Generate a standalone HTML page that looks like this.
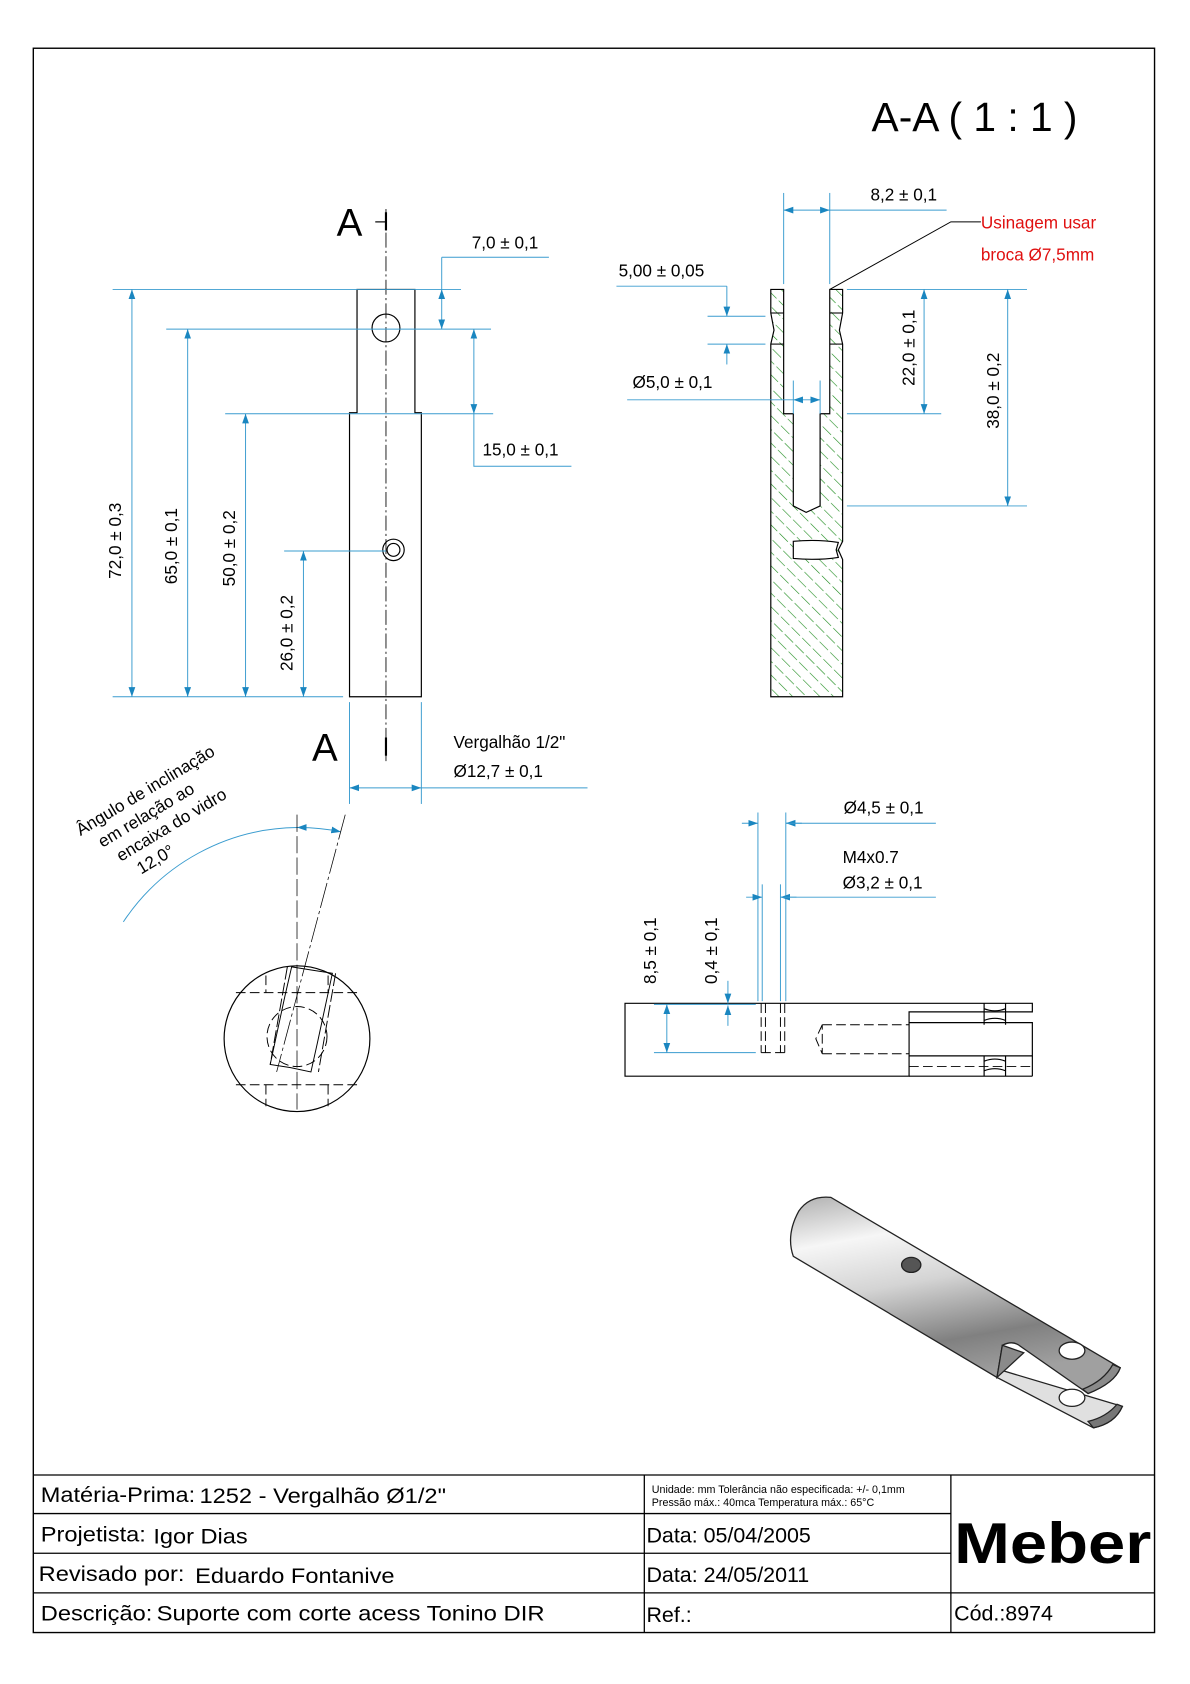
<!DOCTYPE html>
<html><head><meta charset="utf-8"><style>html,body{margin:0;padding:0;background:#fff}svg{display:block}text{font-family:"Liberation Sans",sans-serif}</style></head><body>
<svg width="1190" height="1684" viewBox="0 0 1110 1571" xmlns="http://www.w3.org/2000/svg">
<defs>
<pattern id="h" patternUnits="userSpaceOnUse" width="9" height="14" patternTransform="rotate(-45)">
<line x1="0" y1="0" x2="0" y2="14" stroke="#1a8a1a" stroke-width="1.1" stroke-dasharray="9 3"/>
</pattern>
<marker id="a" viewBox="0 0 10 10" refX="10" refY="5" markerWidth="9" markerHeight="9" orient="auto-start-reverse" markerUnits="userSpaceOnUse"><path d="M0,1.5 L10,5 L0,8.5z" fill="#1a86c0"/></marker>
<linearGradient id="g" x1="0" y1="0" x2="0.3" y2="1"><stop offset="0" stop-color="#b0b0b0"/><stop offset="0.25" stop-color="#f6f6f6"/><stop offset="0.5" stop-color="#d4d4d4"/><stop offset="0.8" stop-color="#808080"/><stop offset="1" stop-color="#a0a0a0"/></linearGradient>
</defs>
<rect x="31" y="45" width="1046" height="1478" fill="none" stroke="#000" stroke-width="1.3"/>
<text x="813" y="122" font-size="38">A-A  ( 1 : 1 )</text>

<!-- left view -->
<g stroke="#000" stroke-width="1.1" fill="none">
<path d="M333,270 H387 V385 H393 V650 H326 V385 H333 Z"/>
<circle cx="360" cy="306" r="13"/>
<circle cx="367" cy="513" r="10"/><circle cx="367" cy="513" r="6"/>
<line x1="360" y1="195" x2="360" y2="710" stroke-dasharray="14 3 2 3" stroke-width="0.8"/>
<line x1="360" y1="198" x2="360" y2="215" stroke-width="2"/><line x1="350" y1="207" x2="360" y2="207"/>
<line x1="360" y1="688" x2="360" y2="705" stroke-width="2"/>
</g>
<text x="314" y="220" font-size="36">A</text>
<text x="291" y="710" font-size="36">A</text>
<g stroke="#3a9ccf" stroke-width="0.9" fill="none">
<line x1="105" y1="270" x2="430" y2="270"/><line x1="105" y1="650" x2="320" y2="650"/>
<line x1="155" y1="307" x2="458" y2="307"/><line x1="210" y1="386" x2="460" y2="386"/>
<line x1="265" y1="514" x2="360" y2="514"/>
<line x1="123" y1="270" x2="123" y2="650" marker-start="url(#a)" marker-end="url(#a)"/>
<line x1="175" y1="307" x2="175" y2="650" marker-start="url(#a)" marker-end="url(#a)"/>
<line x1="229" y1="386" x2="229" y2="650" marker-start="url(#a)" marker-end="url(#a)"/>
<line x1="283" y1="514" x2="283" y2="650" marker-start="url(#a)" marker-end="url(#a)"/>
<line x1="412" y1="240" x2="412" y2="270"/><line x1="412" y1="240" x2="512" y2="240"/>
<line x1="412" y1="270" x2="412" y2="307" marker-start="url(#a)" marker-end="url(#a)"/>
<line x1="442" y1="307" x2="442" y2="386" marker-start="url(#a)" marker-end="url(#a)"/>
<polyline points="442,386 442,435 533,435"/>
<line x1="326" y1="655" x2="326" y2="750"/><line x1="393" y1="655" x2="393" y2="750"/>
<line x1="326" y1="735" x2="393" y2="735" marker-start="url(#a)" marker-end="url(#a)"/>
<line x1="393" y1="735" x2="548" y2="735"/>
</g>
<g font-size="16">
<text transform="translate(113,540) rotate(-90)">72,0 ± 0,3</text>
<text transform="translate(165,545) rotate(-90)">65,0 ± 0,1</text>
<text transform="translate(219,547) rotate(-90)">50,0 ± 0,2</text>
<text transform="translate(273,626) rotate(-90)">26,0 ± 0,2</text>
<text x="440" y="232">7,0 ± 0,1</text>
<text x="450" y="425">15,0 ± 0,1</text>
<text x="423" y="698">Vergalhão 1/2"</text>
<text x="423" y="725">Ø12,7 ± 0,1</text>
</g>

<!-- section view -->
<path d="M719,270 H731 V386 H740 V472 L752,478 L765,472 V386 H774 V270 H786 V292 L783,308 L786,321 V505 L782,513 L786,522 V650 H719 V321 L722,308 L719,292 Z" fill="url(#h)" stroke="#000" stroke-width="1.1"/>
<path d="M740,505 Q762,503 782,506 L780,513 L782,520 Q762,523 740,521 Z" fill="#fff" stroke="#000" stroke-width="1.1"/>
<g stroke="#000" stroke-width="1"><line x1="719" y1="292" x2="731" y2="292"/><line x1="719" y1="321" x2="731" y2="321"/><line x1="774" y1="292" x2="786" y2="292"/><line x1="774" y1="321" x2="786" y2="321"/></g>
<g stroke="#3a9ccf" stroke-width="0.9" fill="none">
<line x1="731" y1="180" x2="731" y2="265"/><line x1="774" y1="180" x2="774" y2="265"/>
<line x1="731" y1="196" x2="774" y2="196" marker-start="url(#a)" marker-end="url(#a)"/>
<line x1="774" y1="196" x2="883" y2="196"/>
<line x1="575" y1="267" x2="678" y2="267"/><line x1="660" y1="295" x2="714" y2="295"/><line x1="660" y1="321" x2="714" y2="321"/>
<line x1="678" y1="267" x2="678" y2="295" marker-end="url(#a)"/><line x1="678" y1="340" x2="678" y2="321" marker-end="url(#a)"/>
<line x1="740" y1="355" x2="740" y2="386"/><line x1="765" y1="355" x2="765" y2="386"/>
<line x1="585" y1="373" x2="740" y2="373"/>
<line x1="740" y1="373" x2="765" y2="373" marker-start="url(#a)" marker-end="url(#a)"/>
<line x1="790" y1="270" x2="958" y2="270"/><line x1="790" y1="386" x2="878" y2="386"/><line x1="790" y1="472" x2="958" y2="472"/>
<line x1="862" y1="270" x2="862" y2="386" marker-start="url(#a)" marker-end="url(#a)"/>
<line x1="940" y1="270" x2="940" y2="472" marker-start="url(#a)" marker-end="url(#a)"/>
</g>
<polyline points="774,270 887,207 915,207" fill="none" stroke="#000" stroke-width="0.9"/>
<g font-size="16">
<text x="812" y="187">8,2 ± 0,1</text>
<text x="577" y="258">5,00 ± 0,05</text>
<text x="590" y="362">Ø5,0 ± 0,1</text>
<text transform="translate(853,360) rotate(-90)">22,0 ± 0,1</text>
<text transform="translate(932,400) rotate(-90)">38,0 ± 0,2</text>
<text x="915" y="213" fill="#e01010">Usinagem usar</text>
<text x="915" y="243" fill="#e01010">broca Ø7,5mm</text>
</g>

<!-- angle / circle view -->
<g font-size="16" fill="#000" transform="translate(75,780) rotate(-31)">
<text x="0" y="0">Ângulo de inclinação</text>
<text x="12" y="20">em relação ao</text>
<text x="20" y="40">encaixa do vidro</text>
<text x="30" y="60">12,0°</text>
</g>
<g fill="none">
<path d="M115,860 A197,197 0 0 1 277,772" stroke="#3a9ccf" stroke-width="0.9"/>
<path d="M277,772 A197,197 0 0 1 318,776" stroke="#3a9ccf" stroke-width="0.9" marker-start="url(#a)" marker-end="url(#a)"/>
<line x1="277" y1="760" x2="277" y2="1035" stroke="#000" stroke-width="0.7" stroke-dasharray="16 4"/>
<line x1="322" y1="760" x2="258" y2="1000" stroke="#000" stroke-width="0.7" stroke-dasharray="24 3 3 3"/>
<circle cx="277" cy="969" r="68" stroke="#000" stroke-width="1.1"/>
<g stroke="#000" stroke-width="0.9" stroke-dasharray="9 4">
<line x1="220" y1="926" x2="334" y2="926"/><line x1="220" y1="1012" x2="334" y2="1012"/>
<line x1="248" y1="910" x2="248" y2="926"/><line x1="306" y1="910" x2="306" y2="926"/>
<line x1="248" y1="1012" x2="248" y2="1032"/><line x1="306" y1="1012" x2="306" y2="1032"/>
<circle cx="277" cy="967" r="28"/>
</g>
<g stroke="#000" stroke-width="0.9">
<path d="M272,902 L291,905 L310,908 L296,973 L290,1000 L271,996 L252,993 L266,928 Z"/>
<line x1="268" y1="902" x2="252" y2="993" stroke-dasharray="12 3"/>
<line x1="313" y1="908" x2="297" y2="1000" stroke-dasharray="12 3"/>
</g>
</g>

<!-- bottom view -->
<g stroke="#000" stroke-width="1.1" fill="none">
<path d="M583,936 H963 V944 H848 V954 H963 V985 H848 V1004 H583 Z"/>
<line x1="848" y1="954" x2="848" y2="985"/>
<line x1="848" y1="1004" x2="963" y2="1004"/><line x1="963" y1="985" x2="963" y2="1004"/>
<g stroke-dasharray="9 4" stroke-width="0.9">
<line x1="710" y1="936" x2="710" y2="982"/><line x1="714" y1="936" x2="714" y2="982"/>
<line x1="728" y1="936" x2="728" y2="982"/><line x1="732" y1="936" x2="732" y2="982"/>
<line x1="710" y1="982" x2="732" y2="982"/>
<line x1="767" y1="956" x2="848" y2="956"/><line x1="767" y1="983" x2="848" y2="983"/>
<polyline points="767,956 761,969 767,983 767,956"/>
<line x1="848" y1="995" x2="963" y2="995"/>
</g>
<path d="M918,936 v20 M938,936 v20 M918,941 q10,4 20,0 M918,952 q10,-4 20,0"/>
<path d="M918,985 v19 M938,985 v19 M918,990 q10,-4 20,0 M918,999 q10,-4 20,0"/>
</g>
<g stroke="#3a9ccf" stroke-width="0.9" fill="none">
<line x1="707" y1="758" x2="707" y2="934"/><line x1="733" y1="758" x2="733" y2="934"/>
<line x1="692" y1="768" x2="707" y2="768" marker-end="url(#a)"/><line x1="748" y1="768" x2="733" y2="768" marker-end="url(#a)"/>
<line x1="733" y1="768" x2="873" y2="768"/>
<line x1="711" y1="825" x2="711" y2="934"/><line x1="728" y1="825" x2="728" y2="934"/>
<line x1="696" y1="837" x2="711" y2="837" marker-end="url(#a)"/><line x1="743" y1="837" x2="728" y2="837" marker-end="url(#a)"/>
<line x1="728" y1="837" x2="873" y2="837"/>
<line x1="610" y1="937" x2="705" y2="937"/><line x1="610" y1="982" x2="705" y2="982"/>
<line x1="622" y1="937" x2="622" y2="982" marker-start="url(#a)" marker-end="url(#a)"/>
<line x1="679" y1="915" x2="679" y2="936" marker-end="url(#a)"/><line x1="679" y1="957" x2="679" y2="938" marker-end="url(#a)"/>
</g>
<g font-size="16">
<text x="787" y="759">Ø4,5 ± 0,1</text>
<text x="786" y="805">M4x0.7</text>
<text x="786" y="829">Ø3,2 ± 0,1</text>
<text transform="translate(612,918) rotate(-90)">8,5 ± 0,1</text>
<text transform="translate(669,918) rotate(-90)">0,4 ± 0,1</text>
</g>

<!-- 3D render -->
<g stroke="#222" stroke-width="1.2">
<path d="M933,1278 L1047,1312 Q1040,1328 1020,1332 L930,1285 Z" fill="#e0e0e0"/>
<path d="M1020,1332 Q1040,1328 1047,1312 L1042,1310 Q1032,1322 1015,1326 Z" fill="#777"/>
<path d="M775,1117 Q755,1115 745,1130 Q733,1152 740,1172 L930,1285 L935,1255 Q945,1250 952,1256 L1015,1300 Q1040,1290 1045,1276 Z" fill="url(#g)"/>
<path d="M930,1285 L935,1255 L955,1262 Z" fill="#8a8a8a"/>
<path d="M1015,1300 Q1040,1290 1045,1276 L1038,1273 Q1030,1288 1010,1296 Z" fill="#8a8a8a"/>
<ellipse cx="850" cy="1180" rx="9" ry="7" fill="#555"/>
<ellipse cx="1000" cy="1260" rx="12" ry="8" fill="#fff"/>
<ellipse cx="1000" cy="1304" rx="12" ry="8" fill="#fff"/>
</g>

<!-- title block -->
<g stroke="#000" stroke-width="1.2" fill="none">
<line x1="31" y1="1376" x2="1077" y2="1376"/>
<line x1="31" y1="1412" x2="887" y2="1412"/>
<line x1="31" y1="1449" x2="887" y2="1449"/>
<line x1="31" y1="1486" x2="1077" y2="1486"/>
<line x1="601" y1="1376" x2="601" y2="1523"/>
<line x1="887" y1="1376" x2="887" y2="1523"/>
</g>
<g font-size="20">
<text x="38" y="1401" textLength="144" lengthAdjust="spacingAndGlyphs">Matéria-Prima:</text><text x="186" y="1402" textLength="230" lengthAdjust="spacingAndGlyphs">1252 - Vergalhão Ø1/2"</text>
<text x="38" y="1438" textLength="98" lengthAdjust="spacingAndGlyphs">Projetista:</text><text x="143" y="1440" textLength="88" lengthAdjust="spacingAndGlyphs">Igor Dias</text>
<text x="36" y="1475" textLength="136" lengthAdjust="spacingAndGlyphs">Revisado por:</text><text x="182" y="1477" textLength="186" lengthAdjust="spacingAndGlyphs">Eduardo Fontanive</text>
<text x="38" y="1512" textLength="104" lengthAdjust="spacingAndGlyphs">Descrição:</text><text x="146" y="1512" textLength="362" lengthAdjust="spacingAndGlyphs">Suporte com corte acess Tonino DIR</text>
<text x="603" y="1439">Data: 05/04/2005</text>
<text x="603" y="1476">Data: 24/05/2011</text>
<text x="603" y="1513">Ref.:</text>
<text x="890" y="1512">Cód.:8974</text>
</g>
<text x="608" y="1393" font-size="10">Unidade: mm Tolerância não especificada: +/- 0,1mm</text>
<text x="608" y="1405" font-size="10">Pressão máx.: 40mca       Temperatura máx.: 65°C</text>
<text x="890" y="1458" font-size="54" font-weight="bold" textLength="184" lengthAdjust="spacingAndGlyphs">Meber</text>
</svg>
</body></html>
